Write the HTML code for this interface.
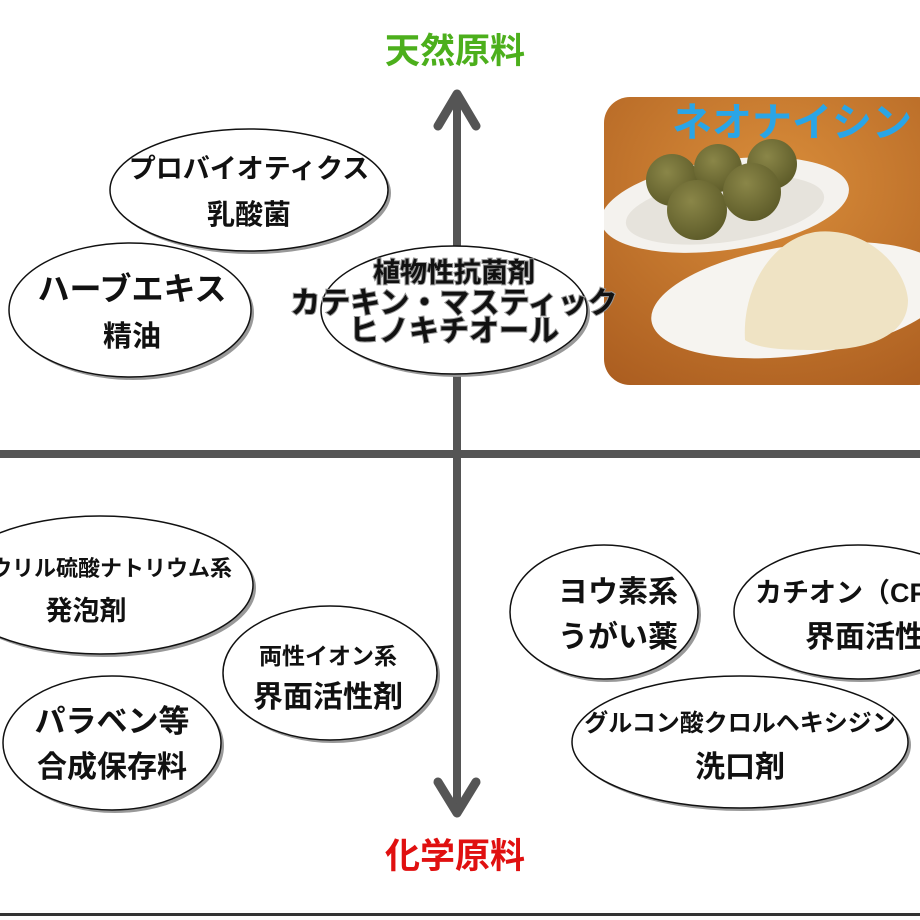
<!DOCTYPE html>
<html><head><meta charset="utf-8"><style>
html,body{margin:0;padding:0;background:#fff;width:920px;height:920px;overflow:hidden}
svg{display:block}
text{font-family:"Liberation Sans","Noto Sans CJK JP",sans-serif;font-weight:bold;text-anchor:middle}
</style></head><body>
<svg width="920" height="920" viewBox="0 0 920 920" xmlns="http://www.w3.org/2000/svg">
<defs>
<clipPath id="ph"><rect x="604" y="97" width="340" height="288" rx="26"/></clipPath>
<radialGradient id="wood" cx="0.5" cy="0.3" r="0.9"><stop offset="0" stop-color="#d98d3a"/><stop offset="1" stop-color="#a85a1e"/></radialGradient>
<radialGradient id="olive" cx="0.4" cy="0.35" r="0.7"><stop offset="0" stop-color="#8a8648"/><stop offset="1" stop-color="#5c5a28"/></radialGradient>
</defs>
<rect x="0" y="450" width="920" height="8" fill="#555"/>
<rect x="453" y="95" width="8" height="718" fill="#555"/>
<polyline points="438,126 457,94 476,126" fill="none" stroke="#555" stroke-width="9" stroke-linecap="round" stroke-linejoin="round"/>
<polyline points="438,782 457,813 476,782" fill="none" stroke="#555" stroke-width="9" stroke-linecap="round" stroke-linejoin="round"/>
<rect x="0" y="913" width="920" height="3" fill="#333"/>
<text x="455" y="63" font-size="35" fill="#4caf1c">天然原料</text>
<text x="455" y="868" font-size="35" fill="#e01010">化学原料</text>

<g clip-path="url(#ph)">
<rect x="604" y="97" width="340" height="288" fill="url(#wood)"/>
<ellipse cx="725" cy="205" rx="125" ry="45" fill="#f4f2ee" transform="rotate(-8 725 205)"/>
<ellipse cx="725" cy="210" rx="100" ry="32" fill="#e6e3dc" transform="rotate(-8 725 210)"/>
<circle cx="672" cy="180" r="26" fill="url(#olive)"/>
<circle cx="718" cy="168" r="24" fill="url(#olive)"/>
<circle cx="772" cy="164" r="25" fill="url(#olive)"/>
<circle cx="697" cy="210" r="30" fill="url(#olive)"/>
<circle cx="752" cy="192" r="29" fill="url(#olive)"/>
<ellipse cx="800" cy="300" rx="150" ry="55" fill="#f6f4f0" transform="rotate(-8 800 300)"/>
<path d="M745,340 C742,290 770,240 815,232 C865,226 905,265 908,300 C908,335 870,350 820,350 C790,350 760,350 745,340Z" fill="#efe3c4"/>
</g>
<text x="672" y="136" font-size="40" fill="#2aa5e6" style="text-anchor:start">ネオナイシン</text>

<g stroke="#111" stroke-width="1.5" fill="#fff">
<g><ellipse cx="252" cy="193" rx="139" ry="61" fill="#999" stroke="none"/><ellipse cx="249" cy="190" rx="139" ry="61"/></g>
<g><ellipse cx="133" cy="313" rx="121" ry="67" fill="#999" stroke="none"/><ellipse cx="130" cy="310" rx="121" ry="67"/></g>
<g><ellipse cx="457" cy="313" rx="133" ry="64" fill="#999" stroke="none"/><ellipse cx="454" cy="310" rx="133" ry="64"/></g>
<g><ellipse cx="103" cy="588" rx="153" ry="69" fill="#999" stroke="none"/><ellipse cx="100" cy="585" rx="153" ry="69"/></g>
<g><ellipse cx="333" cy="676" rx="107" ry="67" fill="#999" stroke="none"/><ellipse cx="330" cy="673" rx="107" ry="67"/></g>
<g><ellipse cx="115" cy="746" rx="109" ry="67" fill="#999" stroke="none"/><ellipse cx="112" cy="743" rx="109" ry="67"/></g>
<g><ellipse cx="607" cy="615" rx="94" ry="67" fill="#999" stroke="none"/><ellipse cx="604" cy="612" rx="94" ry="67"/></g>
<g><ellipse cx="861" cy="615" rx="124" ry="67" fill="#999" stroke="none"/><ellipse cx="858" cy="612" rx="124" ry="67"/></g>
<g><ellipse cx="743" cy="745" rx="168" ry="66" fill="#999" stroke="none"/><ellipse cx="740" cy="742" rx="168" ry="66"/></g>
</g>

<g fill="#111">
<text x="249" y="178" font-size="27">プロバイオティクス</text>
<text x="249" y="224" font-size="28">乳酸菌</text>
<text x="132" y="300" font-size="32">ハーブエキス</text>
<text x="132" y="346" font-size="29">精油</text>
<g style="paint-order:stroke" stroke="#999" stroke-width="2">
<text x="454" y="282" font-size="27">植物性抗菌剤</text>
<text x="454" y="313" font-size="30">カテキン・マスティック</text>
<text x="454" y="341" font-size="30">ヒノキチオール</text>
</g>
<text x="232" y="576" font-size="22" style="text-anchor:end">ラウリル硫酸ナトリウム系</text>
<text x="86" y="620" font-size="27">発泡剤</text>
<text x="328" y="664" font-size="23">両性イオン系</text>
<text x="328" y="707" font-size="30">界面活性剤</text>
<text x="112" y="732" font-size="31">パラベン等</text>
<text x="112" y="777" font-size="30">合成保存料</text>
<text x="618" y="602" font-size="30">ヨウ素系</text>
<text x="618" y="647" font-size="30">うがい薬</text>
<text x="755" y="602" font-size="27" style="text-anchor:start">カチオン（CPC）</text>
<text x="805" y="647" font-size="30" style="text-anchor:start">界面活性剤</text>
<text x="740" y="731" font-size="24">グルコン酸クロルヘキシジン</text>
<text x="740" y="777" font-size="30">洗口剤</text>
</g>
</svg>
</body></html>
